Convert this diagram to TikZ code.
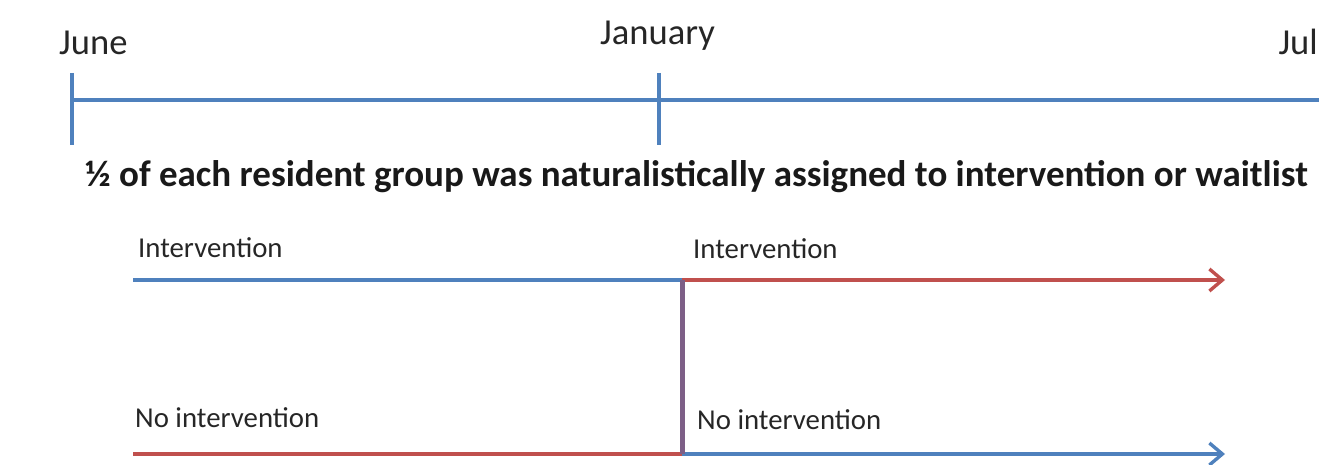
\documentclass[tikz,border=0pt]{standalone}
\usepackage{fontspec}
\setmainfont{Carlito}
\usetikzlibrary{arrows.meta}
\definecolor{olblue}{RGB}{79,129,189}
\definecolor{olred}{RGB}{192,80,77}
\definecolor{olmix}{RGB}{125,95,135}
\tikzset{
  month/.style={anchor=base west, inner sep=0pt, font=\fontsize{36.6}{40}\selectfont, text=black!85},
  grp/.style={anchor=base west, inner sep=0pt, font=\fontsize{28.8}{32}\selectfont, text=black!85},
  title/.style={anchor=base west, inner sep=0pt, font=\bfseries\fontsize{37}{42}\selectfont, text=black!90},
  tl/.style={olblue, line width=3.2pt},
  bl/.style={olblue, line width=3.4pt},
  rl/.style={olred, line width=3.4pt},
  tip/.style={-{Straight Barb[length=13pt,width=22pt,line width=3.4pt]}},
}
\begin{document}
\begin{tikzpicture}[x=1pt,y=-1pt]
\useasboundingbox (0,0) rectangle (1319,465);
% timeline
\node[month] (june) at (59,55) {June};
\node[month] (jan) at (600,45) {January};
\node[month, anchor=base east] (jul) at (1318,55) {Jul};
\coordinate (t0) at (72,100);
\coordinate (t1) at (659,100);
\coordinate (tend) at (1322,100);
\coordinate (a0) at (72,73);
\coordinate (b0) at (72,145);
\coordinate (a1) at (659,73);
\coordinate (b1) at (659,145);
\draw[tl] (t0) -- (tend);
\draw[tl] (a0) -- (b0);
\draw[tl] (a1) -- (b1);
% title
\node[title] (ttl) at (85,186) {½ of each resident group was naturalistically assigned to intervention or waitlist};
% groups
\node[grp] (i1) at (138,257) {Intervention};
\node[grp] (n1) at (135,427) {No intervention};
\node[grp] (i2) at (693,258) {Intervention};
\node[grp] (n2) at (697,429) {No intervention};
\coordinate (us) at (133,280);
\coordinate (um) at (682,280);
\coordinate (ue) at (1225,280);
\coordinate (ls) at (133,454);
\coordinate (lm) at (682,454);
\coordinate (le) at (1225,454);
\draw[bl] (us) -- (um);
\draw[rl] (ls) -- (lm);
\draw[rl,tip] (um) -- (ue);
\draw[bl,tip] (lm) -- (le);
\draw[olmix, line width=5pt] (um) -- (lm);
\end{tikzpicture}
\end{document}
